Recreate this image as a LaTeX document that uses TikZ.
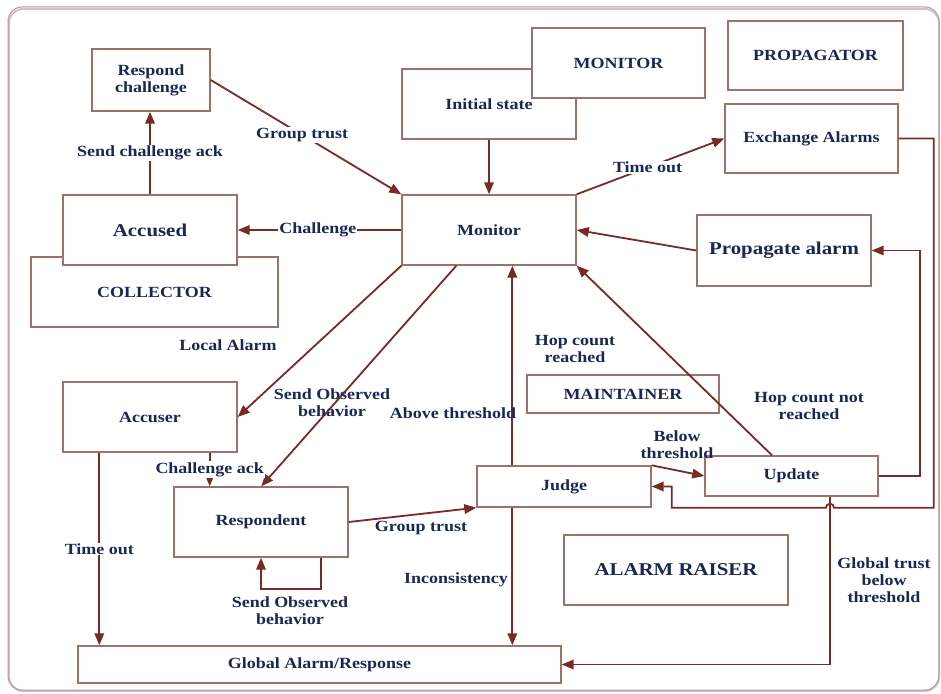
\documentclass[tikz,border=0pt]{standalone}
\usepackage{fontspec}
\setmainfont{Liberation Serif}[FakeStretch=1.16]
\usetikzlibrary{arrows.meta}
\definecolor{txtc}{HTML}{1A2752}
\definecolor{linec}{HTML}{7A2A25}
\definecolor{boxc}{HTML}{9E716B}
\definecolor{framec}{HTML}{B49A98}
\newcommand\lblfont{\bfseries\fontsize{15.5}{17}\selectfont}
\newcommand\bigfnt{\bfseries\fontsize{18}{20}\selectfont}
\tikzset{
  box/.style={draw=boxc, line width=1.4pt, fill=white, text=txtc, font=\lblfont, align=center, inner sep=0pt},
  bigbox/.style={box, font=\bigfnt},
  lbl/.style={text=txtc, font=\lblfont, align=center, inner sep=1pt},
  onl/.style={lbl, fill=white},
  arr/.style={draw=linec, line width=1.8pt, -{Triangle[length=12pt,width=9.5pt]}},
}
\begin{document}
\begin{tikzpicture}[x=1pt,y=-1pt]
\useasboundingbox (0,0) rectangle (941,693);
% frame
\draw[framec!60, line width=2pt, rounded corners=14pt] (9,9) rectangle (939,691);
\draw[framec, line width=1pt, rounded corners=14pt] (8,7) rectangle (939,690);
% boxes
\node[box, minimum width=247pt, minimum height=70pt] (coll) at (154.5,292) {COLLECTOR};
\node[bigbox, minimum width=174pt, minimum height=70pt] (accused) at (150,230) {Accused};
\node[box, minimum width=118pt, minimum height=62pt] (rc) at (151,80) {Respond\\challenge};
\node[box, minimum width=174pt, minimum height=70pt] (init) at (489,104) {Initial state};
\node[box, minimum width=173pt, minimum height=70pt] (monbig) at (618.5,63) {MONITOR};
\node[box, minimum width=174pt, minimum height=70pt] (mon) at (489,230) {Monitor};
\node[box, minimum width=175pt, minimum height=69pt] (propg) at (815.5,55.5) {PROPAGATOR};
\node[box, minimum width=173pt, minimum height=69pt] (exch) at (811.5,138.5) {Exchange Alarms};
\node[bigbox, minimum width=174pt, minimum height=71pt] (pa) at (784,250.5) {Propagate alarm};
\node[box, minimum width=174pt, minimum height=70pt] (accuser) at (150,417) {Accuser};
\node[box, minimum width=174pt, minimum height=70pt] (resp) at (261,522) {Respondent};
\node[box, minimum width=483pt, minimum height=37pt] (glob) at (319.5,664.5) {Global Alarm/Response};
\node[box, minimum width=174pt, minimum height=41pt] (judge) at (564,486.5) {Judge};
\node[box, minimum width=192pt, minimum height=38pt] (maint) at (623,394) {MAINTAINER};
\node[bigbox, minimum width=224pt, minimum height=70pt] (ar) at (676,570) {ALARM RAISER};
\node[box, minimum width=173pt, minimum height=40pt] (upd) at (791.5,476) {Update};
% connectors
\draw[arr] (rc.east) -- node[onl, pos=0.48] {Group trust} (mon.north west);
\draw[arr] (accused.north) -- node[onl] {Send challenge ack} (accused.north |- rc.south);
\draw[arr] (mon.west) -- node[onl, pos=0.51] {Challenge} (accused.east);
\draw[arr] (init.south) -- (mon.north);
\draw[arr] (mon.north east) -- node[onl, pos=0.48] {Time out} (exch.west);
\draw[arr] (pa.west) -- (mon.east);
\draw[arr] ([xshift=-19.5pt]upd.north) -- (mon.south east);
\draw[arr] ([xshift=36pt]judge.north west) -- ([xshift=36pt]judge.north west |- mon.south);
\draw[arr] (mon.south west) -- (accuser.east);
\draw[arr] ([xshift=55pt]mon.south west) -- ([xshift=88pt]resp.north west);
\draw[arr] ([xshift=-28pt]accuser.south east) -- node[onl] {Challenge ack} ([xshift=-28pt]accuser.south east |- resp.north);
\draw[arr] ([xshift=37pt]accuser.south west) -- node[onl, pos=0.5] {Time out} ([xshift=37pt]accuser.south west |- glob.north);
\draw[arr] ([xshift=-28pt]resp.south east) -- ++(0,31) -| (resp.south);
\draw[arr] (resp.east) -- (judge.south west);
\draw[arr] ([xshift=36pt]judge.south west) -- ([xshift=36pt]judge.south west |- glob.north);
\draw[arr] (judge.north east) -- (upd.west);
\draw[arr] (exch.east) -- ++(35,0) coordinate (c1) -- (c1 |- judge.south) -- ([xshift=42.5pt]upd.south |- judge.south)
  arc[start angle=0, end angle=180, radius=4pt] -- ([xshift=20pt]judge.south east) -- ([xshift=20pt]judge.east) -- (judge.east);
\draw[arr] (upd.east) -- ++(41,0) |- (pa.east);
\draw[arr] ([xshift=38.5pt]upd.south) |- (glob.east);
% free labels
\node[lbl] (l1) at (228,345) {Local Alarm};
\node[lbl] (l2) at (332,402.5) {Send Observed\\behavior};
\node[lbl] (l3) at (453,413) {Above threshold};
\node[lbl] (l4) at (575,349) {Hop count\\reached};
\node[lbl] (l5) at (421,528) {Group trust};
\node[lbl] (l6) at (456,580) {Inconsistency};
\node[lbl] (l7) at (290,611) {Send Observed\\behavior};
\node[lbl] (l8) at (677,445) {Below\\threshold};
\node[lbl] (l9) at (809,406) {Hop count not\\reached};
\node[lbl] (l10) at (884,580) {Global trust\\below\\threshold};
\end{tikzpicture}
\end{document}
